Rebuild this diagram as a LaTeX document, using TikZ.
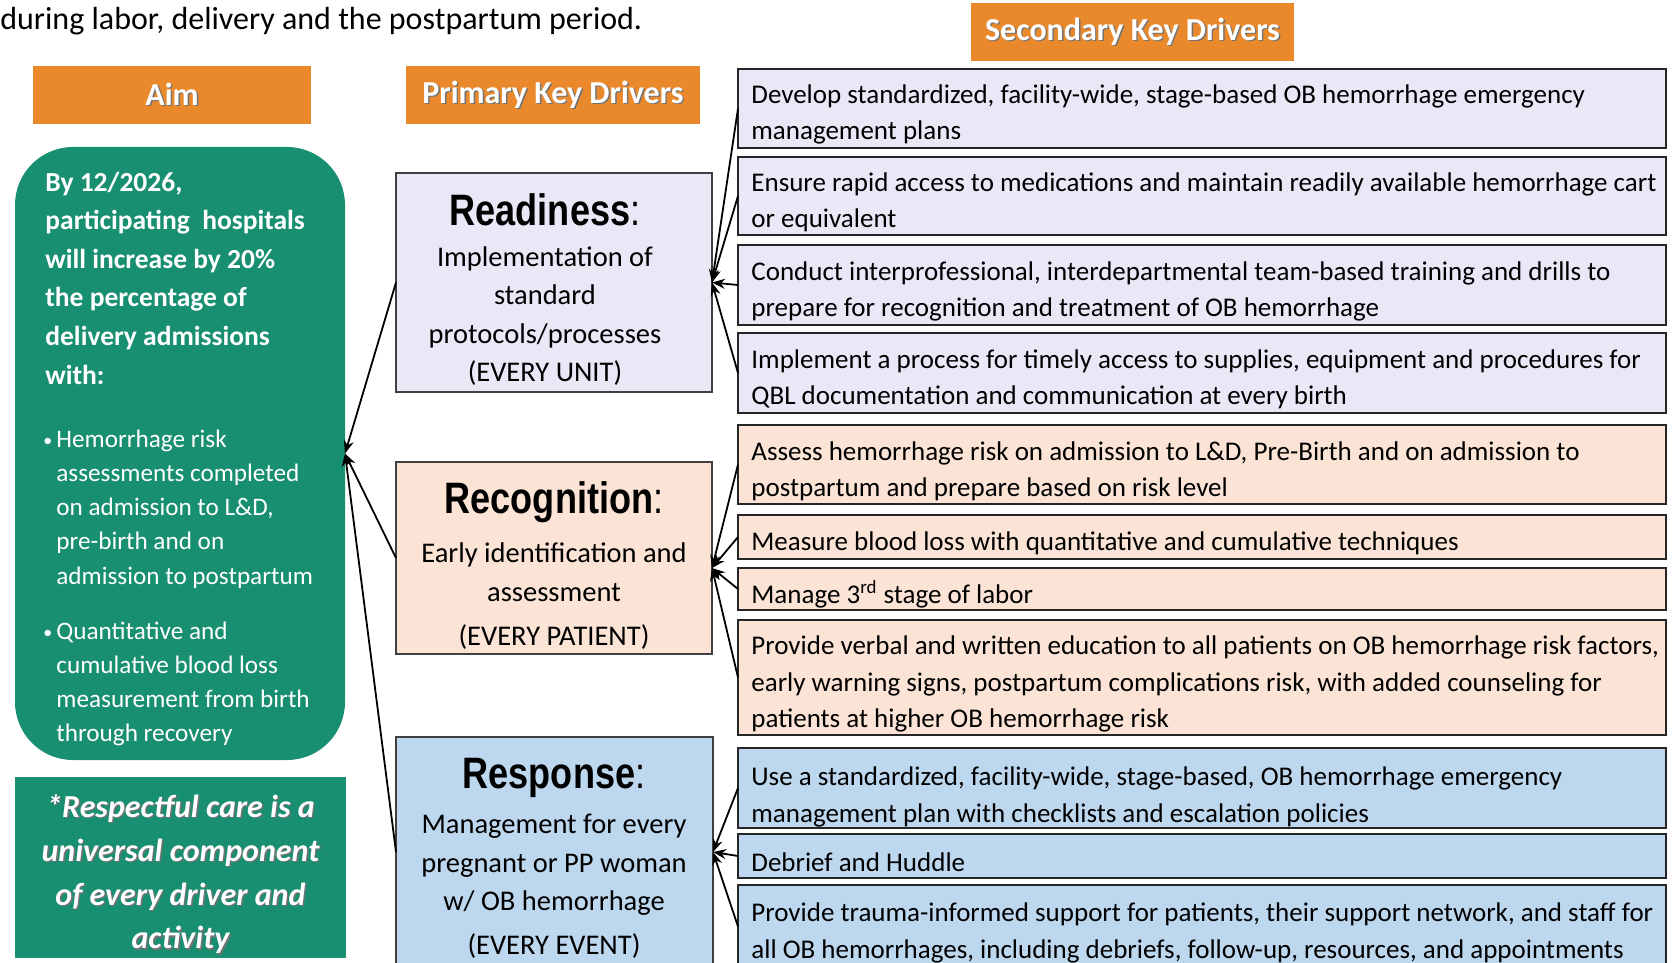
\documentclass[tikz,border=0pt]{standalone}
\usepackage{fontspec}
\setmainfont{Carlito}
\newfontfamily\narrowf[FakeStretch=0.82]{Liberation Sans}
\usetikzlibrary{arrows.meta,calc}
\definecolor{hdrorange}{RGB}{234,137,44}
\definecolor{aimgreen}{RGB}{24,143,112}
\definecolor{lav}{RGB}{236,231,246}
\definecolor{peach}{RGB}{251,228,213}
\definecolor{lblue}{RGB}{189,215,238}
\newcommand\shtext[1]{\makebox[0pt][l]{\hspace{0.7pt}\raisebox{-0.7pt}{\textcolor{black!55}{#1}}}#1}
\newcommand\bl{\makebox[6.5pt][l]{\raisebox{0.5pt}{\small\textbullet}}}
\newcommand\ind{\hspace*{6.5pt}}
\begin{document}
\begin{tikzpicture}[x=0.5pt,y=-0.5pt,
  hdr/.style={fill=hdrorange, draw=none, text=white, inner sep=0pt, outer sep=0pt, minimum height=29pt,
    font=\fontsize{16}{18}\selectfont\bfseries},
  prim/.style={draw=black!75, line width=0.6pt, inner sep=0pt, outer sep=0pt},
  sec/.style={draw=black!85, line width=0.9pt, inner sep=0pt, outer sep=0pt, minimum width=464pt},
  sectext/.style={anchor=west, align=left, inner sep=0pt, font=\fontsize{13.5}{18.2}\selectfont},
  ttl/.style={inner sep=0pt, font=\fontsize{22}{25}\selectfont\narrowf\bfseries},
  pbody/.style={align=center, inner sep=0pt, font=\fontsize{14.25}{19.3}\selectfont},
  aimtext/.style={anchor=west, align=left, inner sep=0pt, text=white},
  arr/.style={-{Stealth[length=6.5pt,width=5pt]}, line width=0.9pt}
]
\useasboundingbox (0,0) rectangle (1676,963);

% top line
\node[anchor=base west, inner sep=0pt, font=\fontsize{16}{19}\selectfont] (toptext) at (0,30)
  {during labor, delivery and the postpartum period.};

% headers
\node[hdr, minimum width=139pt] (aimhdr) at (172,95) {\raisebox{-1pt}{\shtext{Aim}}};
\node[hdr, minimum width=147pt] (primhdr) at (553,95) {\raisebox{-1.5pt}{\shtext{Primary Key Drivers}}};
\node[hdr, minimum width=161.5pt] (sechdr) at (1132.5,32) {\raisebox{-1.5pt}{\shtext{Secondary Key Drivers}}};

% aim
\node[rounded corners=29pt, fill=aimgreen, minimum width=165pt, minimum height=306.5pt, inner sep=0pt, outer sep=0pt] (aim) at (180,453.5) {};
\node[aimtext, font=\fontsize{13.75}{19.3}\selectfont\bfseries] (aimtxt) at (45,278)
  {By 12/2026,\\participating\ \ hospitals\\will increase by 20\%\\the percentage of\\delivery admissions\\with:};
\node[aimtext, font=\fontsize{12.6}{17.1}\selectfont] (bul1) at (43,509)
  {\bl Hemorrhage risk\\\ind assessments completed\\\ind on admission to L\&D,\\\ind pre-birth and on\\\ind admission to postpartum};
\node[aimtext, font=\fontsize{12.6}{16.9}\selectfont] (bul2) at (43,684)
  {\bl Quantitative and\\\ind cumulative blood loss\\\ind measurement from birth\\\ind through recovery};

% respectful care
\node[fill=aimgreen, minimum width=165.5pt, minimum height=90.5pt, inner sep=0pt] (respect) at (180.5,867.5) {};
\node[align=center, text=white, inner sep=0pt, font=\fontsize{16}{21.9}\selectfont\bfseries\itshape] (respecttxt) at (180.5,875)
  {\shtext{*Respectful care is a}\\\shtext{universal component}\\\shtext{of every driver and}\\\shtext{activity}};

% primary drivers
\node[prim, fill=lav, minimum width=158pt, minimum height=109.5pt] (ready) at (554,282.5) {};
\node[ttl] (readyt) at (545,210) {Readiness{\mdseries:}};
\node[pbody] (readyb) at (545,316) {Implementation of\\standard\\protocols/processes\\(EVERY UNIT)};

\node[prim, fill=peach, minimum width=158pt, minimum height=96pt] (recog) at (554,558) {};
\node[ttl] (recogt) at (554,502) {Recognition{\mdseries:}};
\node[pbody] (recogb) at (554,596) {Early identification and\\assessment\\[2.5pt](EVERY PATIENT)};

\node[prim, fill=lblue, minimum width=158.5pt, minimum height=115pt] (resp) at (554.5,852) {};
\node[ttl] (respt) at (554,778) {Response{\mdseries:}};
\node[pbody] (respb) at (554,886) {Management for every\\pregnant or PP woman\\w/ OB hemorrhage\\[2.5pt](EVERY EVENT)};

% secondary drivers
\node[sec, fill=lav, minimum height=39.5pt] (s1) at (1202,108.5) {};
\node[sec, fill=lav, minimum height=39pt] (s2) at (1202,196) {};
\node[sec, fill=lav, minimum height=40pt] (s3) at (1202,285) {};
\node[sec, fill=lav, minimum height=40pt] (s4) at (1202,373) {};
\node[sec, fill=peach, minimum height=39.5pt] (s5) at (1202,464.5) {};
\node[sec, fill=peach, minimum height=22pt] (s6) at (1202,537) {};
\node[sec, fill=peach, minimum height=21pt] (s7) at (1202,589) {};
\node[sec, fill=peach, minimum height=57.5pt] (s8) at (1202,677.5) {};
\node[sec, fill=lblue, minimum height=40pt] (s9) at (1202,788) {};
\node[sec, fill=lblue, minimum height=22pt] (s10) at (1202,856) {};
\node[sec, fill=lblue, minimum height=41.5pt] (s11) at (1202,926.5) {};

\node[sectext] (s1t) at (751,114.5) {Develop standardized, facility-wide, stage-based OB hemorrhage emergency\\management plans};
\node[sectext] (s2t) at (751,202.5) {Ensure rapid access to medications and maintain readily available hemorrhage cart\\or equivalent};
\node[sectext] (s3t) at (751,291.5) {Conduct interprofessional, interdepartmental team-based training and drills to\\prepare for recognition and treatment of OB hemorrhage};
\node[sectext] (s4t) at (751,379.5) {Implement a process for timely access to supplies, equipment and procedures for\\QBL documentation and communication at every birth};
\node[sectext] (s5t) at (751,471.5) {Assess hemorrhage risk on admission to L\&D, Pre-Birth and on admission to\\postpartum and prepare based on risk level};
\node[sectext] (s6t) at (751,543.5) {Measure blood loss with quantitative and cumulative techniques};
\node[sectext] (s7t) at (751,594.5) {Manage 3\textsuperscript{rd} stage of labor};
\node[sectext] (s8t) at (751,684) {Provide verbal and written education to all patients on OB hemorrhage risk factors,\\early warning signs, postpartum complications risk, with added counseling for\\patients at higher OB hemorrhage risk};
\node[sectext] (s9t) at (751,797) {Use a standardized, facility-wide, stage-based, OB hemorrhage emergency\\management plan with checklists and escalation policies};
\node[sectext] (s10t) at (751,862) {Debrief and Huddle};
\node[sectext] (s11t) at (751,933) {Provide trauma-informed support for patients, their support network, and staff for\\all OB hemorrhages, including debriefs, follow-up, resources, and appointments};

% connectors
\coordinate (recogin) at ($(recog.east)+(0,10)$);
\draw[arr] (ready.west) -- (aim.east);
\draw[arr] (recog.west) -- (aim.east);
\draw[arr] (resp.west) -- (aim.east);
\foreach \s in {s1,s2,s3,s4} \draw[arr] (\s.west) -- (ready.east);
\foreach \s in {s5,s6,s7,s8} \draw[arr] (\s.west) -- (recogin);
\foreach \s in {s9,s10,s11} \draw[arr] (\s.west) -- (resp.east);
\end{tikzpicture}
\end{document}
